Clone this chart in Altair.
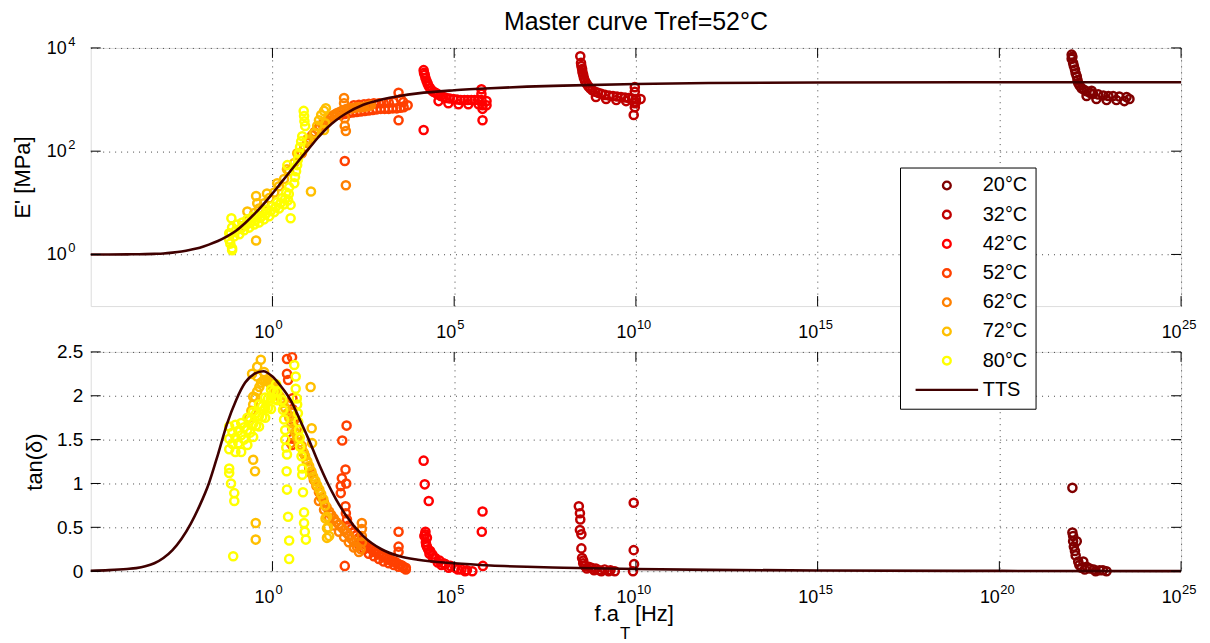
import altair as alt
import pandas as pd

FONT = "Liberation Sans"
SERIES = ["20°C", "32°C", "42°C", "52°C", "62°C", "72°C", "80°C", "TTS"]
COLORS = ["#800000", "#BF0000", "#FF0000", "#FF4000", "#FF8000", "#FFBF00", "#FFFF00", "#400000"]
SHAPES = ["circle"] * 7 + ["M-8.1,0L8.1,0"]

XTICKS = [1e0, 1e5, 1e10, 1e15, 1e20, 1e25]
XTICK_EXP = ["0", "5", "10", "15", "20", "25"]
YTICKS_E = [1.0, 100.0, 10000.0]
YTICK_E_EXP = ["0", "2", "4"]
YTICKS_T = [0, 0.5, 1, 1.5, 2, 2.5]

# ---- storage modulus E' : (log10 f.aT [Hz], log10 E' [MPa]) ----
E20 = [(21.99, 3.87), (21.99, 3.79), (22.03, 3.71), (22.08, 3.58), (22.10, 3.51), (22.13, 3.45),
       (22.17, 3.32), (22.26, 3.22), (22.40, 3.16), (22.58, 3.11), (22.86, 3.08), (23.13, 3.07),
       (23.50, 3.05), (22.40, 3.07), (22.67, 3.01), (22.95, 2.99), (23.22, 2.99), (23.44, 2.97),
       (23.58, 3.01), (22.01, 3.83), (22.05, 3.65), (22.15, 3.38), (22.21, 3.27), (22.33, 3.19),
       (22.49, 3.13), (22.72, 3.10), (23.00, 3.07), (23.30, 3.06), (22.54, 3.17)]
E32 = [(8.47, 3.84), (8.49, 3.71), (8.52, 3.59), (8.55, 3.48), (8.60, 3.36), (8.69, 3.26),
       (8.80, 3.18), (8.96, 3.13), (9.15, 3.09), (9.37, 3.07), (9.59, 3.05), (9.80, 3.03),
       (10.00, 3.01), (10.13, 3.01), (9.97, 3.24), (9.97, 3.15), (9.97, 2.93), (9.97, 2.85),
       (8.90, 3.05), (9.18, 3.01), (9.46, 2.99), (9.73, 2.97), (10.00, 2.95),
       (8.50, 3.65), (8.53, 3.53), (8.57, 3.42), (8.64, 3.31), (8.74, 3.22), (8.88, 3.15),
       (9.05, 3.11), (9.26, 3.08), (9.48, 3.06), (9.70, 3.04), (9.90, 3.02), (9.94, 2.70)]
E42 = [(4.16, 3.57), (4.19, 3.48), (4.24, 3.36), (4.30, 3.26), (4.38, 3.18), (4.49, 3.13),
       (4.63, 3.07), (4.79, 3.03), (4.98, 3.01), (5.18, 2.99), (5.37, 2.99), (5.56, 2.99),
       (5.75, 2.99), (5.89, 2.97), (5.75, 3.20), (5.75, 3.11), (5.78, 2.89), (5.78, 2.82),
       (4.57, 2.97), (4.84, 2.93), (5.12, 2.91), (5.39, 2.91), (5.67, 2.91), (5.89, 2.89),
       (4.17, 3.52), (4.21, 3.42), (4.27, 3.31), (4.34, 3.22), (4.43, 3.15), (4.56, 3.10),
       (4.71, 3.05), (4.88, 3.02), (5.08, 3.00), (5.28, 2.99), (5.47, 2.99), (5.66, 2.99),
       (4.16, 2.41), (5.78, 2.60)]
E52 = [(1.88, 2.70), (2.10, 2.74), (2.32, 2.76), (2.54, 2.78), (2.76, 2.80), (2.98, 2.82),
       (3.20, 2.82), (3.42, 2.83), (3.61, 2.85), (3.72, 2.89), (2.24, 2.89), (2.52, 2.91),
       (2.79, 2.93), (3.06, 2.93), (3.34, 2.95), (3.53, 3.01), (3.47, 3.13),
       (1.99, 2.72), (2.21, 2.75), (2.43, 2.77), (2.65, 2.79), (2.87, 2.81), (3.09, 2.82),
       (3.31, 2.83), (3.52, 2.84), (2.38, 2.90), (2.65, 2.92), (2.93, 2.93), (3.20, 2.94),
       (3.60, 2.95), (1.99, 1.81), (3.47, 2.60)]
E62 = [(0.81, 1.96), (0.95, 2.16), (1.09, 2.31), (1.23, 2.43), (1.37, 2.52), (1.50, 2.60),
       (1.64, 2.68), (1.78, 2.74), (1.91, 2.78), (2.05, 2.82), (2.19, 2.83), (2.32, 2.85),
       (2.46, 2.85), (2.60, 2.87), (2.71, 2.89), (1.97, 3.03), (1.97, 2.93), (1.99, 2.64),
       (1.99, 2.49), (2.02, 2.39), (0.88, 2.06), (1.02, 2.24), (1.16, 2.37), (1.30, 2.48),
       (1.44, 2.56), (1.57, 2.64), (1.71, 2.71), (1.85, 2.76), (1.98, 2.80), (2.12, 2.83),
       (2.26, 2.84), (2.39, 2.85), (2.53, 2.86), (2.66, 2.88), (2.02, 1.34)]
E72 = [(-0.78, 0.56), (-0.64, 0.68), (-0.50, 0.80), (-0.37, 0.89), (-0.23, 0.99), (-0.09, 1.09),
       (0.05, 1.20), (0.18, 1.32), (0.32, 1.46), (0.46, 1.61), (0.60, 1.77), (0.73, 1.92),
       (0.87, 2.06), (1.01, 2.19), (1.15, 2.35), (1.23, 2.49), (1.28, 2.60), (1.34, 2.70),
       (1.42, 2.78), (1.47, 2.83), (-0.69, 0.83), (-0.42, 0.99), (-0.15, 1.18), (0.13, 1.38),
       (0.40, 1.65), (0.68, 1.96), (0.95, 2.23), (-0.45, 1.13), (-0.45, 0.27), (1.06, 1.22),
       (1.45, 2.54), (1.42, 2.41)]
E80 = [(-1.19, 0.29), (-1.05, 0.35), (-0.91, 0.39), (-0.78, 0.47), (-0.64, 0.52), (-0.50, 0.58),
       (-0.37, 0.62), (-0.23, 0.68), (-0.09, 0.74), (0.05, 0.82), (0.18, 0.89), (0.32, 0.97),
       (0.43, 1.05), (-1.11, 0.52), (-0.97, 0.58), (-0.83, 0.62), (-0.69, 0.68), (-0.56, 0.72),
       (-0.42, 0.76), (-0.28, 0.82), (-0.15, 0.87), (-0.01, 0.93), (0.13, 1.01), (0.27, 1.09),
       (0.38, 1.20), (0.46, 1.30), (-1.15, 0.40), (-1.01, 0.46), (-0.87, 0.50), (-0.73, 0.57),
       (-0.60, 0.62), (-0.46, 0.67), (-0.32, 0.72), (-0.19, 0.78), (-0.05, 0.84), (0.09, 0.92),
       (0.22, 0.99), (0.35, 1.08), (0.45, 1.17), (-1.13, 0.70), (-1.16, 0.21), (-1.11, 0.12),
       (-1.19, 0.41), (0.60, 1.38), (0.62, 1.50), (0.65, 1.61), (0.68, 1.73), (0.70, 1.84),
       (0.73, 1.96), (0.76, 2.08), (0.79, 2.19), (0.82, 2.29), (0.86, 2.78), (0.87, 2.68),
       (0.88, 2.58), (0.90, 2.49), (0.41, 1.73), (0.50, 0.96), (0.50, 0.70), (-1.11, 0.08)]

# ---- loss factor tan(delta) : (log10 f.aT [Hz], tan delta) ----
T20 = [(22.01, 0.95), (22.01, 0.44), (22.03, 0.34), (22.13, 0.34), (22.08, 0.23), (22.17, 0.11),
       (22.31, 0.11), (22.26, 0.04), (22.49, 0.03), (22.76, 0.01), (22.95, 0.00), (22.05, 0.28),
       (22.10, 0.18), (22.20, 0.07), (22.40, 0.05), (22.60, 0.02), (22.85, 0.01), (22.03, 0.40),
       (22.35, 0.02), (22.65, 0.00)]
T32 = [(8.43, 0.74), (8.46, 0.66), (8.47, 0.59), (8.46, 0.47), (8.50, 0.42), (8.50, 0.26),
       (8.52, 0.15), (8.55, 0.12), (8.55, 0.09), (8.60, 0.06), (8.70, 0.05), (8.78, 0.04),
       (8.90, 0.03), (9.00, 0.01), (9.14, 0.02), (9.30, 0.01), (9.42, 0.00), (8.65, 0.03),
       (8.85, 0.01), (9.05, 0.00), (9.25, 0.00), (9.94, 0.78), (9.94, 0.24), (9.95, 0.08),
       (9.92, 0.00)]
T42 = [(4.16, 1.26), (4.19, 0.99), (4.30, 0.80), (4.21, 0.45), (4.20, 0.42), (4.25, 0.38),
       (4.22, 0.33), (4.25, 0.28), (4.28, 0.25), (4.34, 0.23), (4.40, 0.19), (4.48, 0.15),
       (4.60, 0.12), (4.70, 0.09), (4.76, 0.08), (4.90, 0.06), (5.03, 0.04), (5.20, 0.02),
       (5.35, 0.01), (5.50, 0.00), (4.55, 0.10), (4.65, 0.07), (4.85, 0.04), (5.10, 0.02),
       (5.30, 0.00), (4.18, 0.40), (4.23, 0.30), (4.32, 0.20), (4.42, 0.15),
       (5.78, 0.68), (5.76, 0.45), (5.79, 0.06)]
T52 = [(1.91, 1.06), (1.88, 0.97), (1.88, 0.89), (2.01, 0.74), (2.02, 0.66), (2.05, 0.59),
       (2.24, 0.44), (2.38, 0.38), (2.52, 0.32), (2.65, 0.27), (2.79, 0.23), (2.93, 0.20),
       (3.06, 0.17), (3.20, 0.14), (3.34, 0.11), (3.47, 0.08), (3.58, 0.06), (3.67, 0.04),
       (2.38, 0.30), (2.65, 0.20), (2.93, 0.14), (3.20, 0.09), (3.47, 0.05), (3.67, 0.02),
       (2.31, 0.41), (2.45, 0.35), (2.58, 0.30), (2.72, 0.25), (2.86, 0.21), (3.00, 0.18),
       (3.13, 0.15), (3.27, 0.12), (3.40, 0.10), (3.53, 0.07), (2.52, 0.25), (2.79, 0.17),
       (3.06, 0.11), (3.34, 0.07), (3.60, 0.04), (2.10, 0.52), (2.17, 0.48),
       (1.92, 1.49), (2.04, 1.66), (1.99, 0.06), (2.01, 1.16), (2.03, 1.00), (3.47, 0.45),
       (3.47, 0.28), (3.47, 0.22), (0.40, 2.42), (0.54, 2.44), (0.40, 2.25), (0.43, 2.18),
       (0.55, 1.97), (0.55, 1.85), (0.55, 1.73), (0.55, 1.62), (0.55, 1.51), (0.54, 1.44)]
T62 = [(0.46, 1.90), (0.60, 1.72), (0.73, 1.52), (0.87, 1.34), (1.01, 1.18), (1.14, 1.04),
       (1.28, 0.90), (1.42, 0.78), (1.56, 0.68), (1.69, 0.60), (1.83, 0.53), (1.97, 0.47),
       (2.10, 0.41), (2.24, 0.33), (2.32, 0.28), (2.43, 0.25), (2.46, 0.55), (2.46, 0.48),
       (2.46, 0.40), (2.46, 0.33), (1.28, 0.80), (1.56, 0.60), (1.83, 0.45), (2.10, 0.33),
       (2.38, 0.22), (0.53, 1.81), (0.67, 1.62), (0.80, 1.43), (0.94, 1.26), (1.08, 1.11),
       (1.21, 0.97), (1.35, 0.84), (1.49, 0.73), (1.62, 0.64), (1.76, 0.56), (1.90, 0.50),
       (2.03, 0.44), (2.17, 0.37), (1.42, 0.70), (1.69, 0.52), (1.97, 0.39), (2.24, 0.27),
       (0.50, 1.46)]
T72 = [(-0.64, 1.75), (-0.53, 1.90), (-0.42, 2.05), (-0.31, 2.15), (-0.20, 2.18), (-0.09, 2.15),
       (0.02, 2.10), (0.13, 2.03), (0.24, 1.97), (0.35, 1.86), (0.46, 1.75), (0.57, 1.63),
       (0.68, 1.53), (0.79, 1.42), (0.90, 1.31), (1.01, 1.20), (1.12, 1.08), (1.23, 0.98),
       (1.34, 0.88), (1.45, 0.75), (1.50, 0.62), (1.53, 0.50), (1.56, 0.40),
       (-0.42, 2.22), (-0.23, 2.27), (-0.06, 2.18), (0.07, 2.10),
       (-0.58, 1.83), (-0.47, 1.98), (-0.36, 2.10), (-0.25, 2.17), (-0.14, 2.17), (-0.03, 2.12),
       (0.08, 2.06), (0.19, 2.00), (0.30, 1.92), (0.41, 1.80), (0.52, 1.69), (0.63, 1.58),
       (0.74, 1.47), (0.85, 1.36), (0.96, 1.25), (1.07, 1.14), (1.18, 1.03), (1.29, 0.93),
       (1.40, 0.82), (-0.32, 2.41), (-0.42, 2.33), (-0.56, 2.25), (-0.53, 1.99), (-0.56, 1.82),
       (-0.53, 1.27), (-0.48, 1.14), (-0.46, 0.55), (-0.46, 0.36), (1.05, 2.10), (1.08, 1.63),
       (1.09, 1.46), (1.46, 0.60), (1.50, 0.49), (1.50, 0.38)]
T80 = [(-1.19, 1.65), (-1.02, 1.67), (-0.86, 1.69), (-0.69, 1.75), (-0.53, 1.82), (-0.37, 1.90),
       (-0.20, 1.98), (-0.04, 2.07), (0.10, 2.13), (-1.19, 1.51), (-1.02, 1.52), (-0.86, 1.55),
       (-0.69, 1.61), (-0.53, 1.68), (-0.37, 1.77), (-0.20, 1.86), (-0.04, 1.97), (0.13, 2.05),
       (-1.19, 1.39), (-1.02, 1.36), (-0.86, 1.36), (-0.69, 1.44), (-0.53, 1.53), (-0.37, 1.65),
       (-0.20, 1.75), (-0.04, 1.85), (0.13, 1.95), (-1.10, 1.58), (-0.94, 1.60), (-0.78, 1.64),
       (-0.61, 1.72), (-0.45, 1.80), (-0.28, 1.88), (-0.12, 1.97), (0.03, 2.05), (-1.10, 1.45),
       (-0.94, 1.46), (-0.78, 1.50), (-0.61, 1.58), (-0.45, 1.66), (-0.28, 1.76), (-0.12, 1.86),
       (0.05, 1.96), (0.27, 1.95), (0.29, 1.84), (0.32, 1.73), (0.35, 1.61), (0.35, 1.50),
       (0.38, 1.41), (0.60, 2.35), (0.64, 2.22), (0.64, 2.08), (0.67, 1.97), (0.70, 1.80),
       (0.73, 1.61), (0.76, 1.42), (0.80, 1.31), (0.82, 1.17), (0.82, 1.10), (0.68, 1.90),
       (0.71, 1.70), (0.75, 1.52), (-1.19, 1.12), (-1.14, 1.00), (-1.05, 0.89), (-1.05, 0.80),
       (-1.08, 0.17), (-1.19, 1.17), (0.40, 1.33), (0.39, 1.14), (0.40, 0.93), (0.43, 0.62),
       (0.46, 0.35), (0.46, 0.14), (0.84, 0.90), (0.87, 0.67), (0.87, 0.55), (0.89, 0.45),
       (0.92, 0.36)]

# ---- TTS master curve ----
TTS_LOGF = [-5, -4.5, -4, -3.75, -3.5, -3.25, -3, -2.75, -2.5, -2.25, -2, -1.75, -1.5, -1.25,
            -1, -0.75, -0.5, -0.25, 0, 0.25, 0.5, 0.75, 1, 1.25, 1.5, 1.75, 2, 2.5, 3, 3.5, 4,
            5, 6, 7, 8, 10, 12, 15, 20, 25]
TTS_LOGE = [0.0, 0.0, 0.002, 0.004, 0.006, 0.011, 0.018, 0.035, 0.058, 0.09, 0.13, 0.19, 0.26,
            0.35, 0.46, 0.61, 0.78, 0.97, 1.18, 1.40, 1.62, 1.84, 2.05, 2.26, 2.45, 2.60, 2.72,
            2.90, 3.00, 3.07, 3.12, 3.18, 3.22, 3.25, 3.27, 3.30, 3.32, 3.33, 3.335, 3.335]
TTS_TAN = [0.005, 0.012, 0.025, 0.035, 0.055, 0.09, 0.15, 0.24, 0.37, 0.54, 0.75, 1.00, 1.33,
           1.68, 1.95, 2.15, 2.25, 2.28, 2.22, 2.10, 1.95, 1.73, 1.50, 1.25, 1.02, 0.82, 0.65,
           0.40, 0.25, 0.17, 0.13, 0.09, 0.065, 0.05, 0.04, 0.025, 0.015, 0.008, 0.003, 0.001]

E_SETS = [E20, E32, E42, E52, E62, E72, E80]
T_SETS = [T20, T32, T42, T52, T62, T72, T80]

top_rows, bot_rows = [], []
for name, pts in zip(SERIES[:7], E_SETS):
    for lf, le in pts:
        top_rows.append({"series": name, "f": 10 ** lf, "E": 10 ** le})
for name, pts in zip(SERIES[:7], T_SETS):
    for lf, t in pts:
        bot_rows.append({"series": name, "f": 10 ** lf, "tan": t})
top_df = pd.DataFrame(top_rows)
bot_df = pd.DataFrame(bot_rows)
tts_top = pd.DataFrame({"series": "TTS", "f": [10 ** v for v in TTS_LOGF], "E": [10 ** v for v in TTS_LOGE]})
tts_bot = pd.DataFrame({"series": "TTS", "f": [10 ** v for v in TTS_LOGF], "tan": TTS_TAN})

xt_df = pd.DataFrame({"f": XTICKS, "exp": XTICK_EXP})
xt1 = xt_df[xt_df["exp"].str.len() == 1]
xt2 = xt_df[xt_df["exp"].str.len() == 2]
yt_top = pd.DataFrame({"E": YTICKS_E, "exp": YTICK_E_EXP})

W, H1, H2 = 1094, 259, 220
BASE_FS, EXP_FS = 18, 13

xscale = alt.Scale(type="log", domain=[1e-5, 1e25], nice=False)
yscale_top = alt.Scale(type="log", domain=[1e-1, 1e4], nice=False)
yscale_bot = alt.Scale(type="linear", domain=[0, 2.5], nice=False, zero=False)

GRID = dict(grid=True, gridDash=[1, 5], gridColor="#333333", gridOpacity=0.9, gridWidth=1,
            ticks=False, domain=False, labelFont=FONT, labelColor="black", labelOverlap=False)

xaxis = alt.Axis(values=XTICKS, labels=False, title=None, **GRID)
yaxis_top = alt.Axis(values=YTICKS_E, labels=False,
                     title="E' [MPa]", titleFont=FONT, titleFontSize=22, titleFontWeight="normal",
                     titleColor="black", titleX=-68, titleY=H1 / 2, titleAngle=270,
                     titleAlign="center", titleBaseline="middle", **GRID)
yaxis_bot = alt.Axis(values=YTICKS_T, format="~g", labelFontSize=19, labelPadding=8, labelFlush=False,
                     title="tan(δ)", titleFont=FONT, titleFontSize=22, titleFontWeight="normal",
                     titleColor="black", titleX=-56, titleY=H2 / 2, titleAngle=270,
                     titleAlign="center", titleBaseline="middle", **GRID)

legend = alt.Legend(title=None, orient="none", legendX=812, legendY=120, fillColor="white",
                    strokeColor="black", padding=8, labelFont=FONT, labelFontSize=20,
                    labelColor="black", rowPadding=9.3, symbolSize=60, symbolStrokeWidth=2.4,
                    symbolOffset=29, labelOffset=26)
color = alt.Color("series:N", scale=alt.Scale(domain=SERIES, range=COLORS), legend=legend)
shape = alt.Shape("series:N", scale=alt.Scale(domain=SERIES, range=SHAPES), legend=legend)


def txt(**kw):
    base = dict(font=FONT, color="black", baseline="alphabetic")
    base.update(kw)
    return base


def panel(df, tts, yfield, yscale, yaxis, yticks, h):
    X = alt.X("f:Q", scale=xscale, axis=xaxis)
    Y = alt.Y(f"{yfield}:Q", scale=yscale, axis=yaxis)
    pts = alt.Chart(df).mark_point(filled=False, size=66, strokeWidth=2.5, opacity=1).encode(
        x=X, y=Y, color=color, shape=shape)
    line = alt.Chart(tts).mark_line(strokeWidth=2.6, interpolate="monotone").encode(
        x=X, y=Y, color=color)
    xt = pd.DataFrame({"f": XTICKS})
    yt = pd.DataFrame({yfield: yticks})
    layers = [
        pts, line,
        alt.Chart(xt).mark_rule(color="black", strokeWidth=1).encode(x=X, y=alt.value(0), y2=alt.value(10)),
        alt.Chart(xt).mark_rule(color="black", strokeWidth=1).encode(x=X, y=alt.value(h - 10), y2=alt.value(h)),
        alt.Chart(yt).mark_rule(color="black", strokeWidth=1).encode(y=Y, x=alt.value(0), x2=alt.value(10)),
        alt.Chart(yt).mark_rule(color="black", strokeWidth=1).encode(y=Y, x=alt.value(W - 10), x2=alt.value(W)),
        # x tick labels 10^n (base and superscript exponent)
        alt.Chart(xt1).mark_text(**txt(fontSize=BASE_FS, align="right", dx=2)).encode(
            x=X, y=alt.value(h + 32), text=alt.value("10")),
        alt.Chart(xt1).mark_text(**txt(fontSize=EXP_FS, align="left", dx=3)).encode(
            x=X, y=alt.value(h + 23), text="exp:N"),
        alt.Chart(xt2).mark_text(**txt(fontSize=BASE_FS, align="right", dx=0.5)).encode(
            x=X, y=alt.value(h + 32), text=alt.value("10")),
        alt.Chart(xt2).mark_text(**txt(fontSize=EXP_FS, align="left", dx=1)).encode(
            x=X, y=alt.value(h + 23), text="exp:N"),
    ]
    return layers


top_layers = panel(top_df, tts_top, "E", yscale_top, yaxis_top, YTICKS_E, H1)
YE = alt.Y("E:Q", scale=yscale_top, axis=yaxis_top)
top_layers += [
    alt.Chart(yt_top).mark_text(**txt(fontSize=BASE_FS, align="right", dy=6)).encode(
        y=YE, x=alt.value(-24), text=alt.value("10")),
    alt.Chart(yt_top).mark_text(**txt(fontSize=EXP_FS, align="left", dy=-2)).encode(
        y=YE, x=alt.value(-22.5), text="exp:N"),
    alt.Chart(pd.DataFrame({"k": [0]})).mark_text(**txt(fontSize=25, align="center")).encode(
        x=alt.value(W / 2), y=alt.value(-18), text=alt.value("Master curve Tref=52°C")),
]
top = alt.layer(*top_layers).properties(width=W, height=H1)

bot_layers = panel(bot_df, tts_bot, "tan", yscale_bot, yaxis_bot, YTICKS_T, H2)
one = pd.DataFrame({"k": [0]})
bot_layers += [
    alt.Chart(one).mark_text(**txt(fontSize=22, align="right")).encode(
        x=alt.value(530), y=alt.value(270), text=alt.value("f.a")),
    alt.Chart(one).mark_text(**txt(fontSize=17, align="left")).encode(
        x=alt.value(531), y=alt.value(288), text=alt.value("T")),
    alt.Chart(one).mark_text(**txt(fontSize=22, align="left")).encode(
        x=alt.value(546), y=alt.value(270), text=alt.value("[Hz]")),
]
bot = alt.layer(*bot_layers).properties(width=W, height=H2)

chart = alt.vconcat(top, bot, spacing=46, bounds="flush").resolve_scale(
    x="independent", y="independent", color="shared", shape="shared"
).properties(
    padding={"left": 3, "top": 0, "right": 5, "bottom": 0}
).configure_view(stroke="black", strokeWidth=1.2).configure(background="white")

chart.save("out.html", embed_options={"renderer": "svg", "actions": False})
